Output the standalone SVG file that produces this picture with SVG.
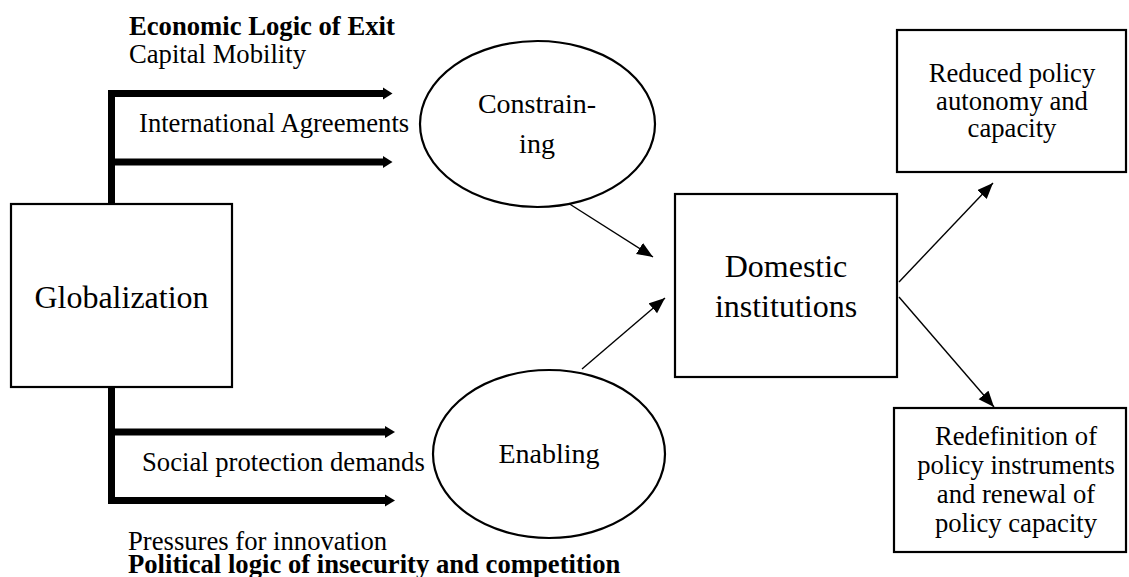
<svg xmlns="http://www.w3.org/2000/svg" width="1129" height="577" viewBox="0 0 1129 577" font-family="'Liberation Serif', 'DejaVu Serif', 'Times New Roman', serif">
<style>
text{font-family:'Liberation Serif','DejaVu Serif','Times New Roman',serif;fill:#000}
.t{font-size:26.67px}
.b{font-weight:bold}
.box{fill:#fff;stroke:#000;stroke-width:2.2}
.ell{fill:#fff;stroke:#000;stroke-width:2.2}
.thick{stroke:#000;stroke-width:7;fill:none}
.thin{stroke:#000;stroke-width:1.4;fill:none;marker-end:url(#ah)}
.c{text-anchor:middle}
</style>
<defs>
<marker id="ah" markerUnits="userSpaceOnUse" markerWidth="18" markerHeight="14" refX="16" refY="6.5" orient="auto">
<path d="M0,0 L16,6.5 L0,13 z" fill="#000"/>
</marker>
</defs>
<g id="connectors">
<path class="thick" d="M111.5,204 V90 M108,93.5 H385 M108,162 H385"/>
<polygon points="383,87.5 392.5,93.5 383,99.5"/>
<polygon points="383,156 392.5,162 383,168"/>
<path class="thick" d="M111.5,387 V504 M108,432 H387 M108,500.5 H387"/>
<polygon points="385,426 395,432 385,438"/>
<polygon points="385,494.5 395,500.5 385,506.5"/>
<line class="thin" x1="568" y1="203" x2="653" y2="257"/>
<line class="thin" x1="582" y1="369" x2="665" y2="298"/>
<line class="thin" x1="899" y1="282" x2="993" y2="183"/>
<line class="thin" x1="899" y1="297" x2="994" y2="407"/>
</g>
<g id="labels">
<text class="t b" x="129" y="35">Economic Logic of Exit</text>
<text class="t" x="129" y="63">Capital Mobility</text>
<text class="t" x="139" y="132">International Agreements</text>
<text class="t" x="142" y="471">Social protection demands</text>
<text class="t" x="128" y="550">Pressures for innovation</text>
<text class="t" x="128" y="573" font-weight="bold">Political logic of insecurity and competition</text>
</g>
<g id="globalization">
<rect class="box" x="11" y="204" width="221" height="183"/>
<text class="c" x="121.5" y="308" font-size="32">Globalization</text>
</g>
<g id="constraining">
<ellipse class="ell" cx="537.5" cy="124" rx="117.5" ry="83"/>
<text class="c" x="537" y="113" font-size="28">Constrain-</text>
<text class="c" x="537" y="153" font-size="28">ing</text>
</g>
<g id="enabling">
<ellipse class="ell" cx="549" cy="454" rx="116" ry="84"/>
<text class="c" x="549" y="463" font-size="28">Enabling</text>
</g>
<g id="domestic">
<rect class="box" x="675" y="194" width="222" height="183"/>
<text class="c" x="786" y="277" font-size="32">Domestic</text>
<text class="c" x="786" y="317" font-size="32">institutions</text>
</g>
<g id="reduced">
<rect class="box" x="897" y="30" width="229" height="142"/>
<text class="t c" x="1012" y="82">Reduced policy</text>
<text class="t c" x="1012" y="110">autonomy and</text>
<text class="t c" x="1012" y="137">capacity</text>
</g>
<g id="redefinition">
<rect class="box" x="894" y="408" width="232" height="144"/>
<text class="t c" x="1016" y="445">Redefinition of</text>
<text class="t c" x="1016" y="474">policy instruments</text>
<text class="t c" x="1016" y="503">and renewal of</text>
<text class="t c" x="1016" y="532">policy capacity</text>
</g>
</svg>
